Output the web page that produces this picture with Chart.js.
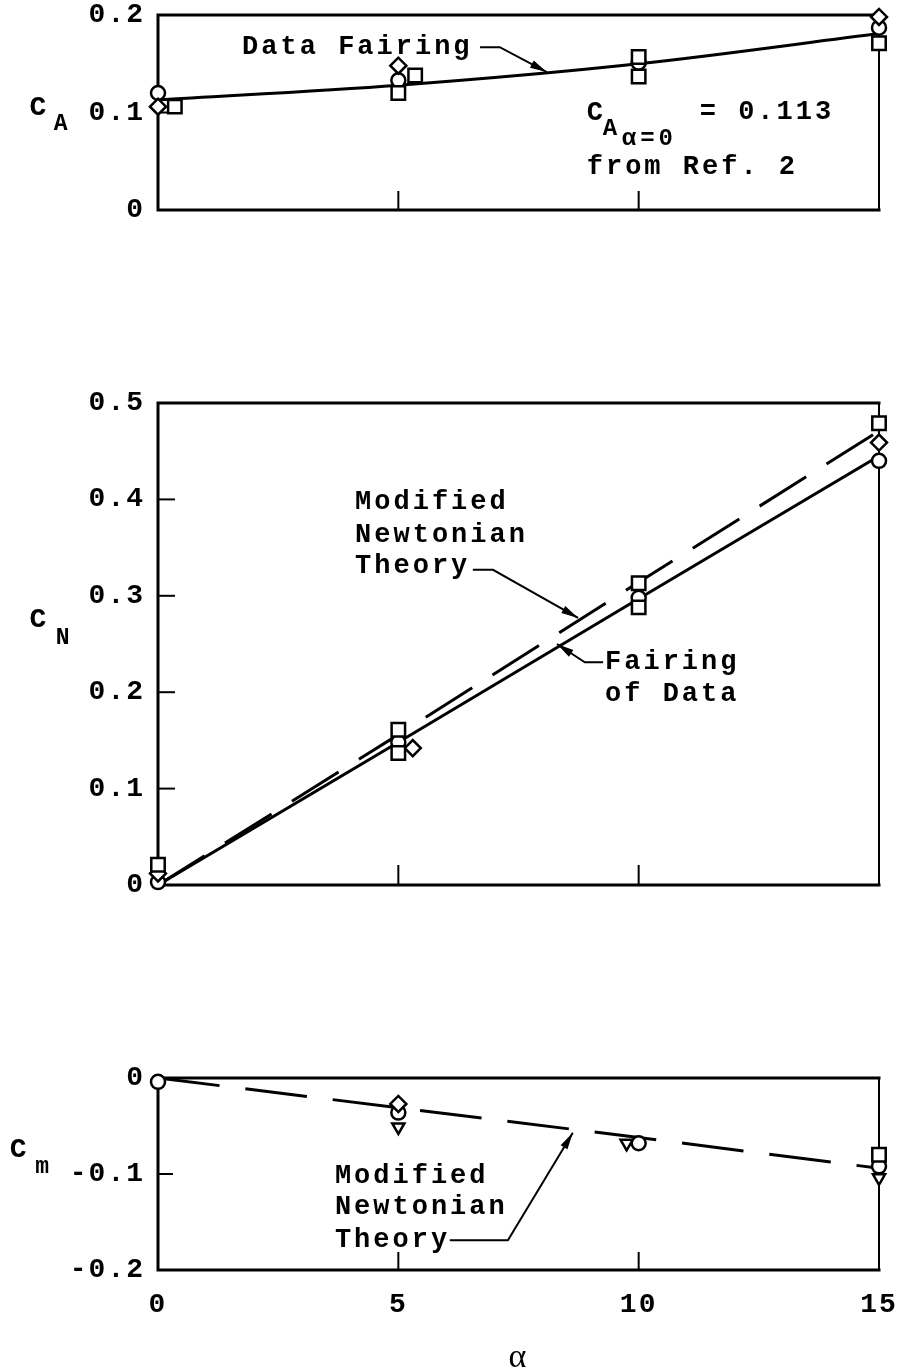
<!DOCTYPE html>
<html>
<head>
<meta charset="utf-8">
<script src="https://cdn.jsdelivr.net/npm/chart.js@4.4.1/dist/chart.umd.min.js"></script>
<style>
  html, body { margin: 0; padding: 0; background: #fff; }
  #page { position: relative; width: 902px; height: 1372px; overflow: hidden; }
  #page canvas { position: absolute; left: 0; }
</style>
</head>
<body>
<div id="page">
  <canvas id="caChart" width="902" height="240" style="top:0px"></canvas>
  <canvas id="cnChart" width="902" height="530" style="top:380px"></canvas>
  <canvas id="cmChart" width="902" height="322" style="top:1050px"></canvas>
</div>
<script>
// ---- data ----
var alphaTicks = [0, 5, 10, 15];
var alphaLabels = ['0', '5', '10', '15'];
var fairX = [0, 5, 10, 15];

// axial force
var caTicks = [0, 0.1, 0.2];
var caTickLabels = ['0', '0.1', '0.2'];
var caFairing = [0.113, 0.128, 0.150, 0.181];
var caCircleX = [0, 5, 10, 15];
var caCircle = [0.120, 0.133, 0.151, 0.187];
var caSquareX = [0.35, 5, 5.35, 10, 10, 15, 15.2];
var caSquare = [0.106, 0.120, 0.138, 0.157, 0.137, 0.171, 0.182];
var caDiamondX = [0, 5, 15];
var caDiamond = [0.106, 0.148, 0.198];

// normal force
var cnTicks = [0, 0.1, 0.2, 0.3, 0.4, 0.5];
var cnTickLabels = ['0', '0.1', '0.2', '0.3', '0.4', '0.5'];
var cnFairing = [0, 0.148, 0.297, 0.445];
var cnTheory = [0, 0.156, 0.314, 0.471];
var cnCircleX = [0, 5, 10, 15];
var cnCircle = [0.003, 0.148, 0.298, 0.440];
var cnSquareX = [0, 5, 5, 10, 10, 15];
var cnSquare = [0.021, 0.161, 0.137, 0.313, 0.288, 0.479];
var cnDiamondX = [0, 5.3, 15, 15.3];
var cnDiamond = [0.012, 0.142, 0.459, 0.441];

// pitching moment
var cmTicks = [-0.2, -0.1, 0];
var cmTickLabels = ['-0.2', '-0.1', '0'];
var cmTheory = [0, -0.031, -0.062, -0.094];
var cmCircleX = [0, 5, 10, 15];
var cmCircle = [-0.004, -0.036, -0.068, -0.092];
var cmSquareX = [15];
var cmSquare = [-0.080];
var cmDiamondX = [5];
var cmDiamond = [-0.027];
var cmFlagX = [5, 9.75, 15];
var cmFlag = [-0.051, -0.068, -0.104];

var MONO = '"Liberation Mono", "DejaVu Sans Mono", monospace';

function pts(xs, ys) {
  return xs.map(function (x, i) { return { x: x, y: ys[i] }; });
}

function lineSet(ys, dash, mono) {
  return {
    data: pts(fairX, ys), showLine: true, pointRadius: 0, borderColor: '#000',
    borderWidth: 3, borderDash: dash || [], order: 5,
    cubicInterpolationMode: mono ? 'monotone' : 'default', tension: 0
  };
}

function markSet(xs, ys, style, r, rot) {
  return {
    data: pts(xs, ys), showLine: false, pointStyle: style, pointRadius: r,
    pointRotation: rot || 0, backgroundColor: '#fff', borderColor: '#000',
    pointBorderWidth: 2.5, order: 0, clip: false
  };
}

function polyline(ctx, p) {
  ctx.beginPath();
  ctx.moveTo(p[0][0], p[0][1]);
  for (var i = 1; i < p.length; i++) ctx.lineTo(p[i][0], p[i][1]);
  ctx.stroke();
}

// box, inward ticks, notes and arrows
var decor = {
  id: 'decor',
  beforeDraw: function (chart) {
    chart.ctx.letterSpacing = '2px';
  },
  beforeDatasetsDraw: function (chart, args, o) {
    var ctx = chart.ctx, a = chart.chartArea, sx = chart.scales.x, sy = chart.scales.y;
    ctx.save();
    ctx.strokeStyle = '#000';
    ctx.lineCap = 'square';
    ctx.lineWidth = 3;
    polyline(ctx, [[a.right, a.top], [a.left, a.top], [a.left, a.bottom], [a.right, a.bottom]]);
    ctx.lineWidth = 2;
    polyline(ctx, [[a.right, a.top], [a.right, a.bottom]]);
    ctx.lineCap = 'butt';
    (o.xTicks || []).forEach(function (v) {
      var px = sx.getPixelForValue(v);
      polyline(ctx, [[px, a.bottom], [px, a.bottom - o.xTickLen]]);
    });
    (o.yTicks || []).forEach(function (v) {
      var py = sy.getPixelForValue(v);
      polyline(ctx, [[a.left, py], [a.left + o.yTickLen, py]]);
    });
    ctx.restore();
  },
  afterDatasetsDraw: function (chart, args, o) {
    var ctx = chart.ctx, sx = chart.scales.x, sy = chart.scales.y;
    ctx.save();
    ctx.fillStyle = '#000';
    ctx.strokeStyle = '#000';
    ctx.textBaseline = 'middle';
    (o.texts || []).forEach(function (t) {
      ctx.font = 'bold ' + (t.size || 27) + 'px ' + MONO;
      ctx.letterSpacing = (t.ls === undefined ? 3 : t.ls) + 'px';
      ctx.textAlign = t.align || 'left';
      ctx.fillText(t.s, sx.getPixelForValue(t.x) + (t.dx || 0), sy.getPixelForValue(t.y) + (t.dy || 0));
    });
    (o.arrows || []).forEach(function (p) {
      var q = p.map(function (d) { return [sx.getPixelForValue(d[0]), sy.getPixelForValue(d[1])]; });
      ctx.lineWidth = 2;
      polyline(ctx, q);
      var e = q[q.length - 1], s = q[q.length - 2];
      var ang = Math.atan2(e[1] - s[1], e[0] - s[0]);
      ctx.beginPath();
      ctx.moveTo(e[0], e[1]);
      ctx.lineTo(e[0] - 17 * Math.cos(ang) + 4 * Math.sin(ang), e[1] - 17 * Math.sin(ang) - 4 * Math.cos(ang));
      ctx.lineTo(e[0] - 17 * Math.cos(ang) - 4 * Math.sin(ang), e[1] - 17 * Math.sin(ang) + 4 * Math.cos(ang));
      ctx.closePath();
      ctx.fill();
    });
    ctx.restore();
  }
};
Chart.register(decor);

function noPad(s) {
  s.paddingTop = 0; s.paddingBottom = 0; s.paddingLeft = 0; s.paddingRight = 0;
}

function options(c) {
  return {
    responsive: false,
    animation: false,
    events: [],
    layout: { padding: { left: 0, right: 23, top: c.padTop, bottom: c.padBottom } },
    plugins: { legend: { display: false }, tooltip: { enabled: false }, decor: c.decor },
    scales: {
      x: {
        type: 'linear', min: 0, max: 15,
        grid: { display: false, drawTicks: false }, border: { display: false },
        afterBuildTicks: function (s) { s.ticks = alphaTicks.map(function (v) { return { value: v }; }); },
        ticks: {
          display: !!c.xLabels, padding: 18, color: '#000',
          font: { family: MONO, size: 28, weight: 'bold' },
          callback: function (v) { return alphaLabels[alphaTicks.indexOf(v)]; }
        },
        title: c.xLabels ? {
          display: true, text: 'α', color: '#000', padding: { top: 0, bottom: 0 },
          font: { family: '"Liberation Serif", serif', size: 34, lineHeight: 0.8 }
        } : { display: false },
        afterFit: function (s) { s.height = c.xHeight; noPad(s); }
      },
      y: {
        type: 'linear', min: c.yTicks[0], max: c.yTicks[c.yTicks.length - 1],
        grid: { display: false, drawTicks: false }, border: { display: false },
        afterBuildTicks: function (s) { s.ticks = c.yTicks.map(function (v) { return { value: v }; }); },
        ticks: {
          padding: 13, color: '#000',
          font: { family: MONO, size: 28, weight: 'bold' },
          callback: function (v) { return c.yLabels[c.yTicks.indexOf(v)]; }
        },
        afterFit: function (s) { s.width = 158; noPad(s); }
      }
    }
  };
}

new Chart(document.getElementById('caChart'), {
  type: 'scatter',
  data: { datasets: [
    lineSet(caFairing, null, true),
    markSet(caSquareX, caSquare, 'rect', 9.5),
    markSet(caDiamondX, caDiamond, 'rectRot', 8),
    markSet(caCircleX, caCircle, 'circle', 7)
  ] },
  options: options({
    padTop: 15, padBottom: 20, xHeight: 10, yTicks: caTicks, yLabels: caTickLabels,
    decor: {
      xTicks: [5, 10], xTickLen: 19, yTicks: [0.1], yTickLen: 15,
      texts: [
        { x: -2.5, y: 0.105, s: 'C', size: 28, align: 'center', ls: 0 },
        { x: -2.5, y: 0.105, dx: 16, dy: 17, s: 'A', size: 23, ls: 0 },
        { x: 1.75, y: 0.167, s: 'Data Fairing' },
        { x: 8.92, y: 0.0995, s: 'C', ls: 0 },
        { x: 8.92, y: 0.0995, dx: 16, dy: 16, s: 'A', size: 24, ls: 0 },
        { x: 8.92, y: 0.0995, dx: 35, dy: 26, s: 'α=0', size: 24, ls: 4 },
        { x: 8.92, y: 0.0995, dx: 113, dy: -1, s: '= 0.113' },
        { x: 8.92, y: 0.044, s: 'from Ref. 2' }
      ],
      arrows: [[[6.70, 0.167], [7.11, 0.167], [8.09, 0.1415]]]
    }
  })
});

new Chart(document.getElementById('cnChart'), {
  type: 'scatter',
  data: { datasets: [
    lineSet(cnTheory, [55, 24]),
    lineSet(cnFairing),
    markSet(cnSquareX, cnSquare, 'rect', 9.5),
    markSet(cnDiamondX, cnDiamond, 'rectRot', 8),
    markSet(cnCircleX, cnCircle, 'circle', 7)
  ] },
  options: options({
    padTop: 23, padBottom: 15, xHeight: 10, yTicks: cnTicks, yLabels: cnTickLabels,
    decor: {
      xTicks: [5, 10], xTickLen: 20, yTicks: [0.1, 0.2, 0.3, 0.4], yTickLen: 17,
      texts: [
        { x: -2.5, y: 0.275, s: 'C', size: 28, align: 'center', ls: 0 },
        { x: -2.5, y: 0.275, dx: 18, dy: 18, s: 'N', size: 23, ls: 0 },
        { x: 4.10, y: 0.397, s: 'Modified' },
        { x: 4.10, y: 0.363, s: 'Newtonian' },
        { x: 4.10, y: 0.331, s: 'Theory' },
        { x: 9.30, y: 0.231, s: 'Fairing' },
        { x: 9.30, y: 0.198, s: 'of Data' }
      ],
      arrows: [
        [[6.55, 0.327], [6.97, 0.327], [8.74, 0.277]],
        [[9.26, 0.231], [8.88, 0.231], [8.30, 0.250]]
      ]
    }
  })
});

new Chart(document.getElementById('cmChart'), {
  type: 'scatter',
  data: { datasets: [
    lineSet(cmTheory, [62, 26]),
    markSet(cmFlagX, cmFlag, 'triangle', 7, 180),
    markSet(cmSquareX, cmSquare, 'rect', 9.5),
    markSet(cmDiamondX, cmDiamond, 'rectRot', 8),
    markSet(cmCircleX, cmCircle, 'circle', 7)
  ] },
  options: options({
    padTop: 28, padBottom: 0, xHeight: 102, xLabels: true, yTicks: cmTicks, yLabels: cmTickLabels,
    decor: {
      xTicks: [5, 10], xTickLen: 18, yTicks: [-0.1], yTickLen: 15,
      texts: [
        { x: -2.91, y: -0.075, s: 'C', size: 28, align: 'center', ls: 0 },
        { x: -2.91, y: -0.075, dx: 17, dy: 17, s: 'm', size: 23, ls: 0 },
        { x: 3.68, y: -0.102, s: 'Modified' },
        { x: 3.68, y: -0.135, s: 'Newtonian' },
        { x: 3.68, y: -0.169, s: 'Theory' }
      ],
      arrows: [[[6.07, -0.169], [7.28, -0.169], [8.63, -0.057]]]
    }
  })
});
</script>
</body>
</html>
